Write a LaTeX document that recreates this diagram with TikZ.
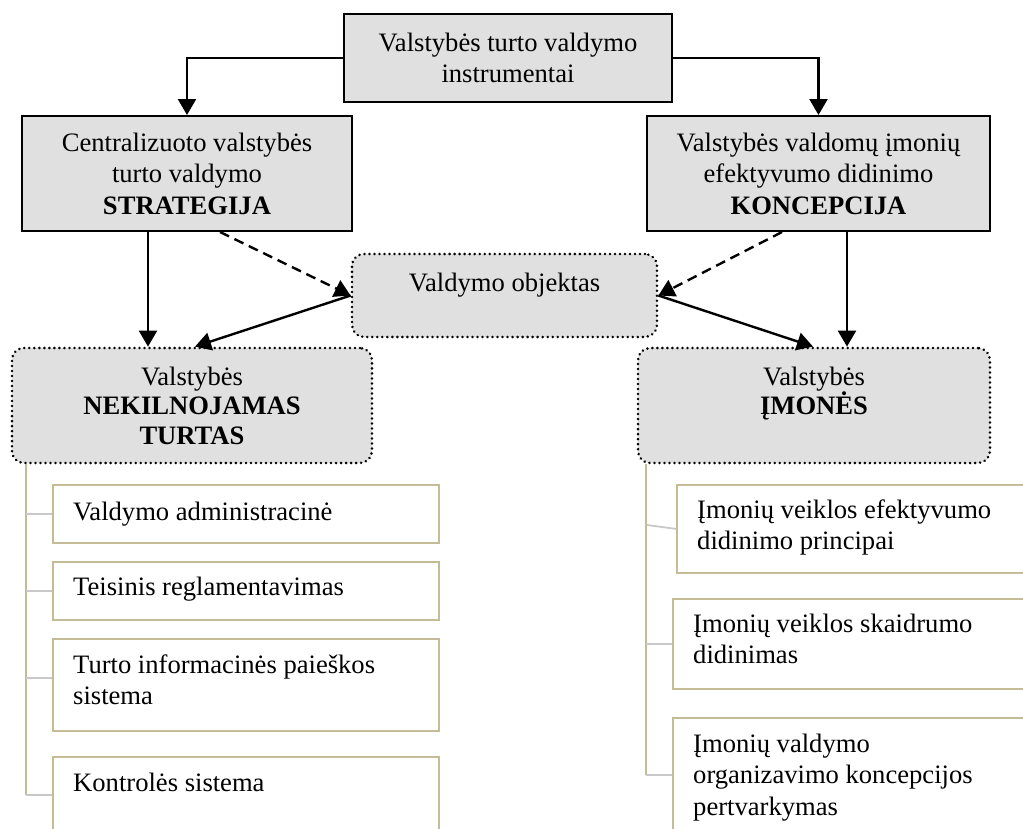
\documentclass[tikz,border=0pt]{standalone}
\usepackage{fontspec}
\setmainfont{Liberation Serif}
\usetikzlibrary{arrows.meta}
\definecolor{boxgray}{HTML}{E0E0E0}
\definecolor{tanline}{HTML}{C4BC96}
\definecolor{tickgray}{HTML}{C8C8C8}
\begin{document}
\begin{tikzpicture}[x=1pt,y=-1pt,
  every node/.style={font=\fontsize{26.6}{31.5}\selectfont},
  mainbox/.style={draw=black, line width=2pt, fill=boxgray, align=center, inner sep=0pt},
  dotbox/.style={draw=black, line width=2.8pt, dash pattern=on 0.01pt off 5pt, line cap=round,
    rounded corners=12pt, fill=boxgray, align=center, inner sep=0pt},
  arr/.style={line width=2.4pt, -{Triangle[length=16pt,width=18pt]}},
  darr/.style={arr, dash pattern=on 10pt off 6pt},
  itembox/.style={draw=tanline, line width=1.8pt, fill=white, inner sep=0pt, anchor=north west},
  itxt/.style={anchor=north west, inner sep=0pt, align=left},
  tanl/.style={draw=tanline, line width=1.8pt},
  tickl/.style={draw=tickgray, line width=1.8pt}
]
\useasboundingbox (0,0) rectangle (1023,828);
\clip (0,0) rectangle (1023,828);

% main boxes
\node[mainbox, minimum width=328pt, minimum height=88pt] (top) at (508,58)
  {Valstybės turto valdymo\\instrumentai};
\node[mainbox, minimum width=330pt, minimum height=115pt] (left) at (187,173.5)
  {Centralizuoto valstybės\\turto valdymo\\\textbf{STRATEGIJA}};
\node[mainbox, minimum width=343pt, minimum height=115pt] (right) at (818.5,173.5)
  {Valstybės valdomų įmonių\\efektyvumo didinimo\\\textbf{KONCEPCIJA}};
\node[dotbox, minimum width=305pt, minimum height=83pt] (vo) at (504.5,295.5)
  {Valdymo objektas\\[-6pt]\mbox{}};
\node[dotbox, minimum width=360pt, minimum height=115pt] (nek) at (192,405.5)
  {Valstybės\\[-2pt]\textbf{NEKILNOJAMAS}\\[-2pt]\textbf{TURTAS}};
\node[dotbox, minimum width=352pt, minimum height=115pt] (imo) at (814,405.5)
  {Valstybės\\[-2pt]\textbf{ĮMONĖS}\\[-2pt]\mbox{}};

% connectors
\draw[arr] (top.west) -| (left.north);
\draw[arr] (top.east) -| (right.north);
\coordinate (ls) at ([xshift=-39pt]left.south);
\draw[arr] (ls) -- (ls |- nek.north);
\coordinate (ld) at ([xshift=33pt]left.south);
\draw[darr] (ld) -- (vo.west);
\draw[arr] (vo.west) -- ([xshift=3pt]nek.north);
\coordinate (rd) at ([xshift=-36.5pt]right.south);
\draw[darr] (rd) -- (vo.east);
\draw[arr] (vo.east) -- ([xshift=-1pt]imo.north);
\coordinate (rs) at ([xshift=28.5pt]right.south);
\draw[arr] (rs) -- (rs |- imo.north);

% left list
\node[itembox, minimum width=386pt, minimum height=58pt] (l1) at (52,484) {};
\node[itembox, minimum width=386pt, minimum height=58pt] (l2) at (52,561) {};
\node[itembox, minimum width=386pt, minimum height=92pt] (l3) at (52,638) {};
\node[itembox, minimum width=386pt, minimum height=76pt] (l4) at (52,756) {};
\node[itxt] (lt1) at (73,498) {\strut Valdymo administracinė};
\node[itxt] (lt2) at (73,573) {\strut Teisinis reglamentavimas};
\node[itxt] (lt3) at (73,651) {\strut Turto informacinės paieškos\\sistema};
\node[itxt] (lt4) at (73,769) {\strut Kontrolės sistema};
\coordinate (lv) at ([xshift=15pt]nek.south west);
\draw[tanl] (lv) -- (lv |- l4.west);
\draw[tickl] (lv |- l1.west) -- (l1.west);
\draw[tickl] (lv |- l2.west) -- (l2.west);
\draw[tickl] ([yshift=7pt]lv |- l3.west) -- ([yshift=7pt]l3.west);
\draw[tickl] (lv |- l4.west) -- (l4.west);

% right list
\node[itembox, minimum width=360pt, minimum height=88pt] (r1) at (676,484) {};
\node[itembox, minimum width=360pt, minimum height=90pt] (r2) at (672,598) {};
\node[itembox, minimum width=360pt, minimum height=114pt] (r3) at (672,717) {};
\node[itxt] (rt1) at (697,496) {\strut Įmonių veiklos efektyvumo\\didinimo principai};
\node[itxt] (rt2) at (693,610) {\strut Įmonių veiklos skaidrumo\\didinimas};
\node[itxt] (rt3) at (693,730) {\strut Įmonių valdymo\\organizavimo koncepcijos\\pertvarkymas};
\coordinate (rv) at ([xshift=9pt]imo.south west);
\draw[tanl] (rv) -- (rv |- r3.west);
\coordinate (rk1) at (647,525);
\draw[tickl] (rk1) -- (r1.west);
\draw[tickl] (rv |- r2.west) -- (r2.west);
\draw[tickl] (rv |- r3.west) -- (r3.west);
\end{tikzpicture}
\end{document}
